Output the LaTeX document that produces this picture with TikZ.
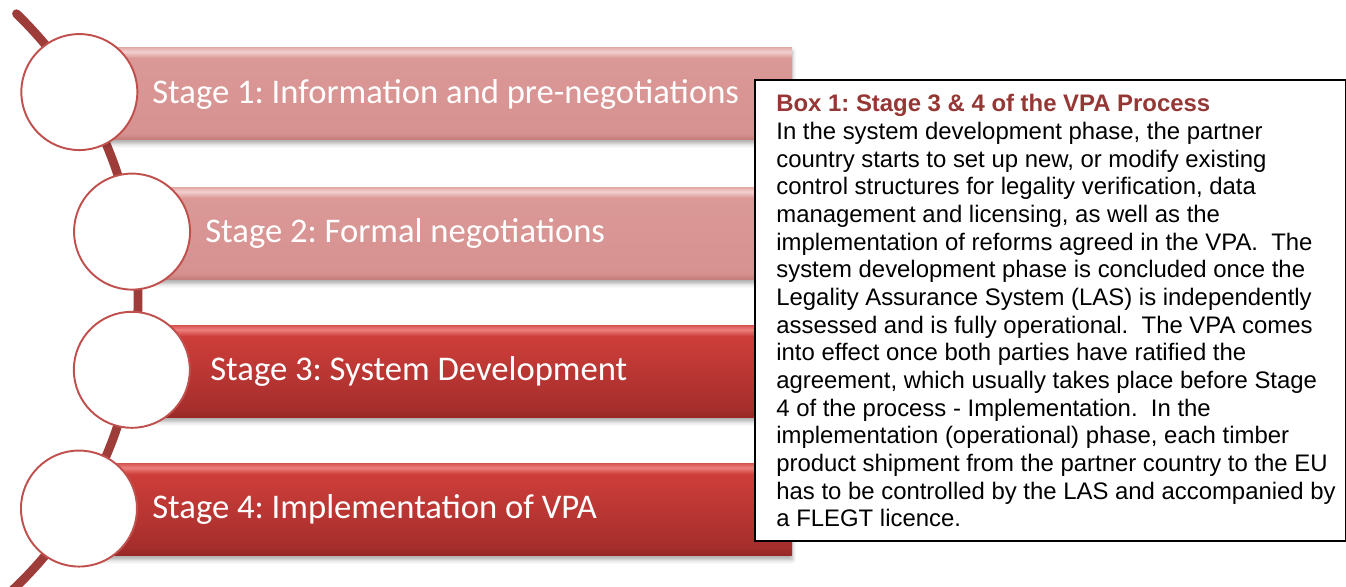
\documentclass[tikz,border=0pt]{standalone}
\usepackage{fontspec}
\setmainfont{Liberation Sans}
\newfontfamily\stagefont{Carlito}
\usetikzlibrary{calc,shadows.blur}
\definecolor{SpineClr}{RGB}{158,60,58}
\definecolor{RimClr}{RGB}{192,80,77}
\definecolor{TitleClr}{RGB}{149,55,53}
\definecolor{PaleBot}{RGB}{196,126,124}
\definecolor{PaleLow}{RGB}{214,146,144}
\definecolor{PaleMid}{RGB}{218,152,150}
\definecolor{PaleGlow}{RGB}{242,208,207}
\definecolor{PaleTop}{RGB}{226,168,166}
\definecolor{RedBot}{RGB}{150,40,38}
\definecolor{RedLow}{RGB}{165,46,44}
\definecolor{RedMid}{RGB}{206,62,58}
\definecolor{RedGlow}{RGB}{236,128,125}
\definecolor{RedTop}{RGB}{214,82,79}

% glossy bar fills (the path box is mapped onto 25bp..75bp)
\pgfdeclareverticalshading{palebarshade}{100bp}{%
  color(0bp)=(PaleBot); color(25bp)=(PaleBot);
  color(28bp)=(PaleLow); color(69bp)=(PaleMid);
  color(72.5bp)=(PaleGlow); color(75bp)=(PaleTop);
  color(100bp)=(PaleTop)}
\pgfdeclareverticalshading{redbarshade}{100bp}{%
  color(0bp)=(RedBot); color(25bp)=(RedBot);
  color(29bp)=(RedLow); color(69bp)=(RedMid);
  color(72.5bp)=(RedGlow); color(75bp)=(RedTop);
  color(100bp)=(RedTop)}

\tikzset{
  spine/.style={SpineClr,line width=5pt,line cap=round},
  barshadow/.style={blur shadow={shadow xshift=0pt,shadow yshift=-2.5pt,
      shadow blur radius=2.5pt,shadow opacity=35}},
  palebar/.style={barshadow,shading=palebarshade},
  redbar/.style={barshadow,shading=redbarshade},
  stagering/.style={circle,draw=RimClr,line width=1.1pt,fill=white,minimum size=23.2mm,inner sep=0pt},
  stagetxt/.style={anchor=west,inner sep=0pt,text=white,font=\stagefont\fontsize{19.7}{24}\selectfont},
  infobox/.style={draw=black,line width=.9pt,fill=white,minimum width=118.2mm,minimum height=92.2mm,inner sep=0pt},
  boxtxt/.style={anchor=north west,inner sep=0pt,align=left,font=\fontsize{13.6}{15.75}\selectfont}
}

\begin{document}
\frenchspacing
\begin{tikzpicture}[x=.2mm,y=-.2mm]
\useasboundingbox (0,0) rectangle (1346,586);

% the bent spine the stage rings sit on
\coordinate (hub) at (-260,300);
\coordinate (c1) at ($(hub)+(-31.5:398)$);
\coordinate (c2) at ($(hub)+(-9.9:398)$);
\coordinate (c3) at ($(hub)+(10.1:398)$);
\coordinate (c4) at ($(hub)+(31.6:398)$);
\draw[spine] ($(hub)+(-46:398)$) arc[start angle=-46,end angle=48,radius=398];

% stage bars
\shade[palebar] (78,47) rectangle (792,139);
\shade[palebar] (131,187) rectangle (792,279);
\shade[redbar] (131,325) rectangle (792,417);
\shade[redbar] (78,463) rectangle (792,555);

\node[stagering] (ring1) at (c1) {};
\node[stagering] (ring2) at (c2) {};
\node[stagering] (ring3) at (c3) {};
\node[stagering] (ring4) at (c4) {};

\node[stagetxt] (st1) at (152,94) {Stage 1: Information and pre-negotiations};
\node[stagetxt] (st2) at (205,233) {Stage 2: Formal negotiations};
\node[stagetxt] (st3) at (210,371) {Stage 3: System Development};
\node[stagetxt] (st4) at (152,509) {Stage 4: Implementation of VPA};

% text box on the right
\node[infobox,anchor=north west] (box1) at (754,79) {};
\node[boxtxt] (box1txt) at (776,94) {%
{\bfseries\color{TitleClr}Box 1: Stage 3 \& 4 of the VPA Process}\\
In the system development phase, the partner\\
country starts to set up new, or modify existing\\
control structures for legality verification, data\\
management and licensing, as well as the\\
implementation of reforms agreed in the VPA.\ \ The\\
system development phase is concluded once the\\
Legality Assurance System (LAS) is independently\\
assessed and is fully operational.\ \ The VPA comes\\
into effect once both parties have ratified the\\
agreement, which usually takes place before Stage\\
4 of the process - Implementation.\ \ In the\\
implementation (operational) phase, each timber\\
product shipment from the partner country to the EU\\
has to be controlled by the LAS and accompanied by\\
a FLEGT licence.};

\end{tikzpicture}
\end{document}
